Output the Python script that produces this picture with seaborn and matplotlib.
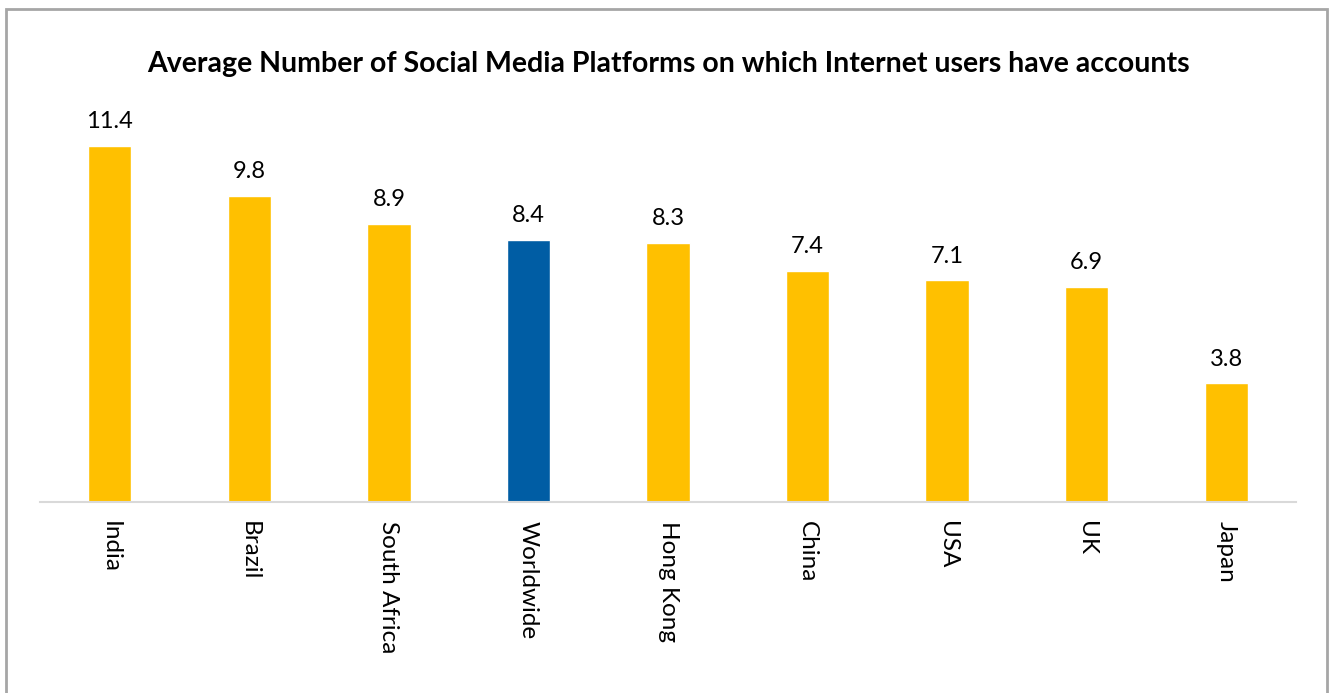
import matplotlib
matplotlib.use("Agg")
import matplotlib.pyplot as plt
import seaborn as sns
import pandas as pd
from matplotlib.patches import Rectangle

countries = ["India", "Brazil", "South Africa", "Worldwide", "Hong Kong", "China", "USA", "UK", "Japan"]
values = [11.4, 9.8, 8.9, 8.4, 8.3, 7.4, 7.1, 6.9, 3.8]
highlight = "Worldwide"
title = "Average Number of Social Media Platforms on which Internet users have accounts"

YELLOW = "#FFC000"
BLUE = "#005DA4"

sns.set_theme(style="white")
plt.rcParams['font.family'] = ['Lato', 'DejaVu Sans']

df = pd.DataFrame({"country": countries, "value": values})
palette = {c: (BLUE if c == highlight else YELLOW) for c in countries}

fig = plt.figure(figsize=(13.32, 6.93), dpi=100)
ax = fig.add_axes([40/1332, 1-502/693, (1296-40)/1332, 390/693])

sns.barplot(data=df, x="country", y="value", hue="country", palette=palette,
            legend=False, width=0.31, ax=ax, saturation=1)

ax.set_ylim(0, 12.5)
ax.set_xlim(-0.5, len(countries)-0.5)
ax.set_xlabel("")
ax.set_ylabel("")
ax.set_yticks([])
for s in ["top", "left", "right"]:
    ax.spines[s].set_visible(False)
ax.spines["bottom"].set_color("#D9D9D9")
ax.spines["bottom"].set_linewidth(1.5)
ax.tick_params(axis="x", length=0, pad=14)
ax.set_xticks(range(len(countries)))
ax.set_xticklabels(countries, rotation=270, fontsize=17.5, color="#000000", va="top", ha="center")

for container in ax.containers:
    ax.bar_label(container, fmt="%.1f", padding=10, fontsize=17, color="#000000")

fig.text(668/1332, 1-64/693, title, ha="center", va="center", fontsize=20.5, fontweight="bold", color="#000000")

fig.patches.append(Rectangle((6/1332, -0.01), (1327-6)/1332, 1-9/693+0.01, transform=fig.transFigure,
                             fill=False, edgecolor="#A6A6A6", linewidth=2))

fig.savefig("out.png", dpi=100)
